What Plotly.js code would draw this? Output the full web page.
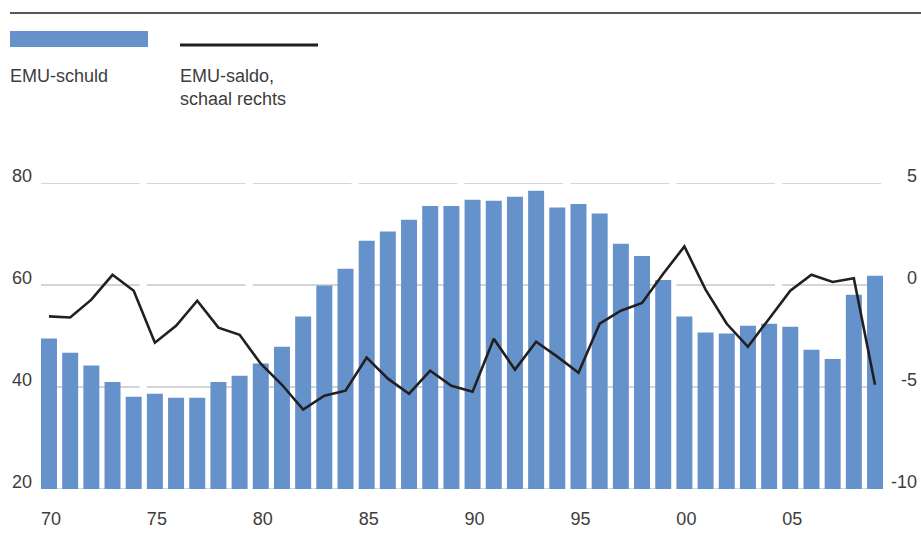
<!DOCTYPE html>
<html>
<head>
<meta charset="utf-8">
<script src="https://cdn.plot.ly/plotly-3.0.1.min.js"></script>
<style>
html,body{margin:0;padding:0;background:#fff;}
#chart{width:921px;height:549px;}
</style>
</head>
<body>
<div id="chart"></div>
<script>
// ---- data ----
const years = [1970,1971,1972,1973,1974,1975,1976,1977,1978,1979,
               1980,1981,1982,1983,1984,1985,1986,1987,1988,1989,
               1990,1991,1992,1993,1994,1995,1996,1997,1998,1999,
               2000,2001,2002,2003,2004,2005,2006,2007,2008,2009];
const emuSchuld = [49.5,46.7,44.2,41.0,38.1,38.7,37.9,37.9,41.0,42.2,
                   44.6,47.9,53.8,59.9,63.2,68.7,70.5,72.8,75.5,75.5,
                   76.7,76.5,77.3,78.5,75.2,75.9,74.0,68.1,65.7,61.0,
                   53.8,50.7,50.5,52.0,52.4,51.8,47.3,45.5,58.1,61.8];
const emuSaldo = [-1.54,-1.59,-0.72,0.50,-0.28,-2.83,-2.00,-0.77,-2.09,-2.44,
                  -3.86,-4.89,-6.11,-5.43,-5.18,-3.56,-4.59,-5.33,-4.20,-4.94,
                  -5.23,-2.63,-4.15,-2.78,-3.51,-4.30,-1.90,-1.26,-0.88,0.55,
                  1.89,-0.23,-1.90,-3.03,-1.65,-0.28,0.50,0.15,0.33,-4.89];
const xTickVals = [1970,1975,1980,1985,1990,1995,2000,2005];
const xTickText = ["70","75","80","85","90","95","00","05"];
const leftTicks = [20,40,60,80];
const rightTicks = [-10,-5,0,5];
const legendSchuld = "EMU-schuld";
const legendSaldo = "EMU-saldo,<br>schaal rechts";

// ---- layout helpers ----
const W = 921, H = 549;
const M = {l:41, r:38, t:183, b:60, pad:0};
const PW = W - M.l - M.r, PH = H - M.t - M.b;
const px = x => (x - M.l) / PW;          // pixel x -> paper
const py = y => (H - M.b - y) / PH;      // pixel y -> paper
const TXT = '#3d3d3d';
const FONT = 'Liberation Sans, Arial, sans-serif';
const BLUE = '#6692cb';
const GRID = '#ababab';

const shapes = [];
// segmented gridlines (one segment per 5-year block)
xTickVals.forEach(s => {
  leftTicks.forEach(v => {
    shapes.push({type:'line', xref:'x', yref:'y', x0:s-0.38, x1:s+4.28, y0:v, y1:v,
                 line:{color:GRID, width:1.2}, layer:'below'});
  });
});
// top rule
shapes.push({type:'line', xref:'paper', yref:'paper', x0:px(10), x1:px(921), y0:py(13), y1:py(13),
             line:{color:'#231f20', width:1.5}});
// legend swatches
shapes.push({type:'rect', xref:'paper', yref:'paper', x0:px(10), x1:px(148), y0:py(47), y1:py(31),
             fillcolor:BLUE, line:{width:0}});
shapes.push({type:'line', xref:'paper', yref:'paper', x0:px(180), x1:px(318), y0:py(45), y1:py(45),
             line:{color:'#231f20', width:3}});

const annotations = [
  {xref:'paper', yref:'paper', x:px(8), y:py(76), xanchor:'left', yanchor:'middle', showarrow:false,
   text:legendSchuld, align:'left', font:{family:FONT, size:18, color:TXT}},
  {xref:'paper', yref:'paper', x:px(178), y:py(87.5), xanchor:'left', yanchor:'middle', showarrow:false,
   text:legendSaldo, align:'left', font:{family:FONT, size:18, color:TXT}}
];
rightTicks.forEach(v => {
  annotations.push({xref:'paper', yref:'y2', x:px(919), y:v, xanchor:'right', yanchor:'middle',
    yshift:7, showarrow:false, text:String(v), font:{family:FONT, size:18, color:TXT}});
});
leftTicks.forEach(v => {
  annotations.push({xref:'paper', yref:'y', x:px(34), y:v, xanchor:'right', yanchor:'middle',
    yshift:7, showarrow:false, text:String(v), font:{family:FONT, size:18, color:TXT}});
});

const traces = [
  {type:'bar', x:years, y:emuSchuld, marker:{color:BLUE, line:{width:0}}, yaxis:'y', name:'EMU-schuld'},
  {type:'scatter', mode:'lines', x:years, y:emuSaldo, yaxis:'y2', name:'EMU-saldo',
   line:{color:'#231f20', width:2.6}}
];

const layout = {
  width:W, height:H,
  margin:M,
  paper_bgcolor:'#fff', plot_bgcolor:'#fff',
  showlegend:false,
  bargap:0.245,
  font:{family:FONT, color:TXT},
  xaxis:{range:[1969.623, 2009.377], tickvals:xTickVals, ticktext:xTickText, automargin:false,
         showgrid:false, zeroline:false, showline:false, ticks:'outside', ticklen:13,
         tickcolor:'rgba(0,0,0,0)', ticklabelshift:2,
         tickfont:{family:FONT, size:18, color:TXT}},
  yaxis:{range:[20,80], showgrid:false, zeroline:false, showline:false, automargin:false,
         showticklabels:false, ticks:''},
  yaxis2:{range:[-10,5], overlaying:'y', side:'right', showgrid:false, zeroline:false, automargin:false,
          showline:false, showticklabels:false, ticks:''},
  shapes:shapes,
  annotations:annotations
};

Plotly.newPlot('chart', traces, layout, {displayModeBar:false, staticPlot:true});
</script>
</body>
</html>
